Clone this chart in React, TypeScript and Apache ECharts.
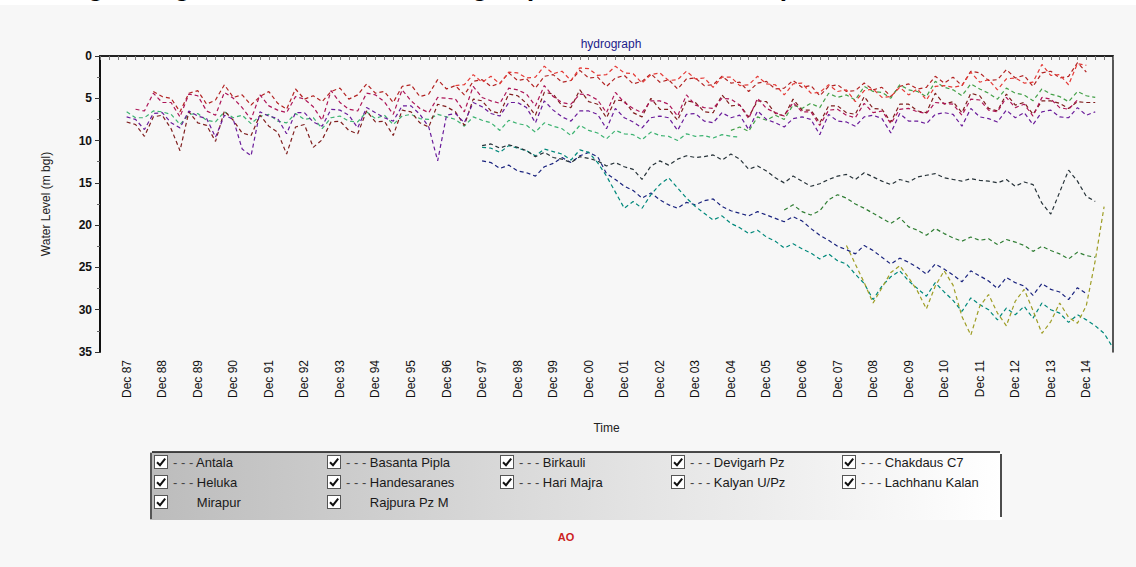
import React, { useEffect, useRef } from "react";
import * as echarts from "echarts";

// ---- categories (quarterly, labels shown at Dec) ----
const quarterMonths = ["Mar", "Jun", "Sep", "Dec"];
const firstYear = 1987;
const lastYear = 2015;
const categoryCount = 115; // Mar 87 .. Sep 15

const yTicks = [0, 5, 10, 15, 20, 25, 30, 35];

const seriesNames = [
  "Antala", "Basanta Pipla", "Birkauli", "Devigarh Pz", "Chakdaus C7",
  "Heluka", "Handesaranes", "Hari Majra", "Kalyan U/Pz", "Lachhanu Kalan",
  "Mirapur", "Rajpura Pz M",
];

// start index of each series (0 = Mar 87)
const seriesStart = [6, 3, 43, 71, 40, 3, 4, 43, 43, 3, 84, 77];

const antala = [4.2, 4.8,
  5.0, 6.6, 4.4, 4.1, 5.7, 5.2, 3.4, 4.9, 4.6, 5.8, 4.8, 4.2, 5.6, 6.3, 3.9, 5.1,
  4.7, 5.4, 4.2, 3.8, 5.1, 4.6, 3.3, 4.4, 4.2, 5.5, 3.6, 3.4, 4.8, 4.5, 2.8, 3.9,
  3.5, 4.6, 3.0, 2.8, 3.6, 3.2, 2.0, 2.9, 2.7, 3.8, 2.4, 2.2, 3.1, 2.9, 1.7, 2.6,
  2.5, 3.6, 2.6, 2.3, 3.3, 3.0, 2.1, 3.1, 2.8, 3.9, 2.7, 2.6, 3.5, 3.4, 2.4, 3.2,
  3.1, 4.2, 3.2, 3.0, 3.9, 3.8, 2.9, 3.7, 3.5, 4.7, 3.6, 3.4, 4.2, 4.1, 3.2, 4.0,
  3.7, 4.8, 3.6, 3.3, 3.9, 3.7, 2.4, 3.2, 2.5, 3.5, 1.8, 2.0, 2.9, 2.8, 1.6, 2.6,
  2.3, 3.6, 2.0, 1.8, 2.6, 2.4, 0.8, 1.9];

const basantaPipla = [6.6,
  7.3, 7.3, 6.5, 6.6, 6.9, 8.1, 6.9, 6.8, 7.6, 7.8, 6.6, 7.3, 7.0, 8.0, 7.1, 6.9,
  7.7, 7.9, 6.8, 7.5, 7.3, 8.6, 7.3, 7.1, 7.7, 7.8, 6.6, 7.4, 7.0, 8.1, 7.1, 6.9,
  7.4, 7.5, 6.9, 7.2, 7.5, 8.3, 7.2, 7.6, 7.9, 8.8, 7.6, 8.0, 8.2, 9.0, 7.9, 8.3,
  8.6, 9.4, 8.2, 8.8, 9.1, 9.8, 8.8, 9.2, 9.3, 9.9, 9.0, 9.4, 9.5, 10.0, 9.2, 9.5,
  9.4, 9.7, 9.3, 9.5, 9.6];

const birkauli = [12.4,
  12.6, 13.3, 12.9, 13.6, 13.8, 14.2, 13.1, 12.7, 12.0, 12.6, 11.8, 11.4,
  11.9, 13.9, 14.6, 15.4, 15.9, 16.8, 16.2, 17.0, 17.6, 18.0, 17.3, 17.6,
  17.1, 16.9, 17.8, 18.3, 18.6, 18.9, 18.4, 18.8, 19.2, 19.6, 19.0, 19.5,
  20.4, 21.2, 21.8, 22.5, 22.9, 23.4, 22.4, 23.0, 23.8, 24.6, 23.9, 24.4,
  25.0, 25.8, 24.6, 25.2, 25.9, 26.7, 25.4, 26.0, 26.6, 27.5, 26.2, 26.8,
  27.2, 28.3, 26.9, 27.6, 27.9, 28.8, 27.4, 28.1];

const devigarhPz = [8.8,
  8.4, 8.9, 7.2, 7.6, 7.0, 7.5, 5.8, 6.2, 5.6, 6.1, 4.4, 4.9, 4.6, 5.2, 3.6, 4.2,
  4.3, 5.0, 3.4, 4.0, 4.2, 4.8, 3.0, 3.7, 4.0, 4.7, 3.3, 3.9, 4.4, 5.1, 3.8, 4.4,
  4.6, 5.3, 3.9, 4.5, 4.8, 5.4, 4.2, 4.7, 4.9];

const chakdausC7 = [
  3.5, 3.4, 2.2, 3.1, 2.4, 3.3, 1.9, 2.0, 2.6, 2.5, 1.2, 2.1, 1.8, 2.9, 1.4, 1.5,
  2.3, 2.2, 1.2, 2.0, 2.1, 3.2, 2.2, 2.0, 2.9, 2.8, 1.8, 2.7, 2.6, 3.7, 2.5, 2.5,
  3.5, 3.4, 2.4, 3.3, 3.4, 4.6, 3.3, 3.2, 4.4, 4.3, 3.4, 4.2, 4.0, 5.4, 4.1, 3.9,
  4.9, 4.8, 3.7, 4.6, 3.9, 5.2, 3.6, 3.5, 3.7, 3.5, 1.9, 3.1, 2.8, 4.0, 2.7, 2.6,
  3.2, 3.1, 1.0, 2.3, 2.2, 3.4, 0.9, 1.1];

const heluka = [7.8,
  8.1, 9.5, 7.2, 7.0, 8.6, 11.2, 6.6, 7.9, 8.2, 10.1, 6.5, 7.6, 9.1, 9.4, 7.0, 8.3,
  9.0, 11.6, 8.4, 8.1, 10.8, 9.9, 7.8, 7.7, 8.8, 9.2, 6.5, 7.8, 7.7, 9.4, 6.4, 6.6,
  7.9, 8.4, 5.7, 6.0, 6.6, 8.2, 5.1, 5.3, 6.5, 6.8, 4.5, 4.7, 5.6, 7.0, 4.3, 4.5,
  5.9, 6.1, 4.0, 5.4, 5.7, 7.3, 5.2, 5.3, 6.7, 7.2, 5.0, 6.3, 6.3, 7.6, 5.3, 5.5,
  6.6, 6.7, 4.6, 5.9, 5.8, 7.2, 5.3, 5.4, 6.8, 7.1, 5.1, 6.4, 6.4, 7.9, 5.9, 5.9,
  6.7, 6.9, 4.8, 6.2, 6.3, 7.8, 5.7, 5.7, 6.5, 6.7, 4.4, 5.7, 5.4, 6.7, 4.4, 4.7,
  6.2, 6.5, 4.5, 5.8, 5.5, 6.9, 5.3, 5.3, 5.6, 6.2, 5.4, 5.5, 5.5];

const handesaranes = [
  6.3, 6.5, 4.4, 5.5, 5.5, 7.2, 4.5, 4.7, 6.5, 7.0, 4.3, 5.0, 6.1, 7.5, 4.6, 5.9,
  6.4, 6.7, 4.8, 5.1, 6.0, 7.6, 4.1, 5.5, 6.3, 6.5, 4.4, 4.6, 5.4, 6.9, 4.0, 5.3,
  6.2, 6.7, 4.9, 5.0, 5.1, 6.6, 3.6, 4.9, 5.3, 5.6, 3.8, 4.0, 4.5, 5.9, 3.5, 4.8,
  5.5, 5.7, 4.5, 4.6, 5.2, 6.7, 4.3, 5.5, 6.2, 6.7, 5.3, 5.3, 5.7, 7.1, 4.6, 5.8,
  6.1, 6.2, 5.0, 5.1, 5.8, 7.4, 5.0, 6.2, 6.7, 7.1, 5.5, 6.6, 6.6, 8.2, 6.4, 6.3,
  7.0, 7.3, 5.6, 6.7, 6.5, 8.0, 6.3, 6.2, 6.6, 6.8, 5.5, 5.6, 5.7, 7.0, 5.1, 5.2,
  6.4, 6.6, 4.9, 6.1, 5.7, 7.1, 4.9, 5.1, 6.1, 6.3, 5.2];

const hariMajra = [10.8,
  10.9, 11.4, 10.6, 10.9, 11.2, 11.8, 11.0, 11.3, 11.6, 12.3, 11.1, 11.4,
  12.6, 14.2, 16.1, 18.0, 17.2, 18.0, 16.4, 15.2, 14.4, 15.6, 16.8, 17.8,
  18.6, 19.4, 18.9, 19.8, 20.3, 21.0, 20.6, 21.4, 21.9, 22.7, 22.2, 22.8,
  23.3, 24.0, 23.4, 24.2, 24.6, 25.8, 26.9, 28.8, 27.2, 26.1, 25.4, 26.6,
  27.5, 28.4, 26.8, 27.9, 28.9, 30.2, 28.6, 29.4, 30.0, 31.2, 29.8, 30.6,
  29.6, 31.0, 29.2, 30.0, 30.4, 31.5, 30.6, 31.2, 31.9, 32.8, 34.5];

const kalyanUPz = [10.6,
  10.4, 10.9, 10.5, 10.8, 11.2, 11.9, 11.4, 12.0, 12.2, 12.6, 11.9, 12.1,
  12.4, 13.0, 12.6, 13.1, 13.4, 14.6, 13.0, 12.4, 12.9, 12.2, 11.8, 12.0,
  11.9, 11.7, 12.3, 11.6, 12.2, 13.4, 13.0, 13.6, 14.4, 15.0, 14.2, 14.8,
  15.4, 15.1, 14.6, 14.2, 14.0, 14.6, 13.8, 14.3, 14.8, 15.2, 14.6, 14.9,
  14.3, 14.1, 13.9, 14.4, 14.6, 14.8, 14.5, 14.7, 14.8, 15.0, 14.6, 15.4,
  14.9, 15.2, 17.4, 18.7, 16.1, 13.5, 14.8, 16.6, 17.2];

const lachhanuKalan = [7.2,
  7.5, 8.7, 6.8, 6.7, 7.9, 8.5, 6.5, 7.1, 7.4, 9.6, 7.0, 7.5, 11.0, 11.8, 6.6, 7.1,
  7.4, 9.2, 6.7, 6.7, 7.8, 8.3, 6.3, 6.4, 7.0, 8.5, 6.1, 6.7, 7.3, 7.7, 5.9, 5.9,
  6.9, 8.4, 12.4, 7.0, 6.8, 7.9, 5.5, 6.0, 6.8, 7.1, 5.5, 5.5, 6.1, 7.9, 5.3, 6.4,
  7.2, 7.7, 6.5, 6.5, 6.9, 8.6, 6.2, 7.3, 7.8, 8.5, 7.3, 7.1, 7.3, 8.8, 6.9, 6.8,
  7.7, 7.9, 6.7, 7.3, 7.0, 8.7, 6.5, 7.5, 7.9, 8.4, 7.4, 7.2, 7.5, 9.3, 6.9, 7.7,
  7.8, 8.3, 7.2, 7.0, 7.4, 9.1, 6.8, 7.7, 7.7, 8.0, 6.9, 6.7, 6.9, 8.3, 6.2, 7.2,
  7.4, 7.8, 6.4, 7.3, 6.7, 8.1, 6.6, 6.4, 7.2, 7.3, 6.1, 7.0, 6.6];

const mirapur = [
  22.4, 24.6, 26.8, 29.2, 27.4, 25.6, 24.8, 26.2, 27.8, 29.9, 27.2, 25.4,
  27.1, 30.8, 33.0, 29.6, 28.2, 30.4, 31.9, 29.0, 27.6, 30.1, 32.8, 31.4,
  29.2, 30.9, 31.6, 29.5, 24.2, 17.8];

const rajpuraPzM = [18.2, 17.6, 18.4,
  18.8, 18.3, 17.0, 16.4, 16.8, 17.5, 18.0, 18.6, 19.2, 19.8, 19.1, 20.2,
  20.6, 21.2, 20.4, 21.0, 21.5, 21.9, 21.4, 21.8, 21.6, 22.3, 21.7, 22.0,
  22.4, 23.1, 22.5, 23.0, 23.4, 24.0, 23.2, 23.6, 23.8];

const seriesValues = [
  antala, basantaPipla, birkauli, devigarhPz, chakdausC7, heluka,
  handesaranes, hariMajra, kalyanUPz, lachhanuKalan, mirapur, rajpuraPzM,
];

const seriesColors = [
  "#b22222", "#3cb371", "#1a237e", "#43a047", "#e53935", "#7f1d1d",
  "#ad1457", "#00897b", "#263238", "#6a1b9a", "#9e9d24", "#2e7d32",
];

// legend columns (read top to bottom)
const legendColumns = [
  ["Antala", "Heluka", "Mirapur"],
  ["Basanta Pipla", "Handesaranes", "Rajpura Pz M"],
  ["Birkauli", "Hari Majra"],
  ["Devigarh Pz", "Kalyan U/Pz"],
  ["Chakdaus C7", "Lachhanu Kalan"],
];
const legendNoLine = ["Mirapur", "Rajpura Pz M"];

function buildCategories(): string[] {
  const out: string[] = [];
  for (let y = firstYear; y <= lastYear; y++) {
    for (const m of quarterMonths) out.push(`${m} ${String(y).slice(2)}`);
  }
  return out.slice(0, categoryCount);
}

const checkSvg =
  "<svg xmlns='http://www.w3.org/2000/svg' width='14' height='14'>" +
  "<rect x='0.5' y='0.5' width='13' height='13' fill='#ffffff' stroke='#555555'/>" +
  "<path d='M3 7.2 L6 10.2 L11.2 3.6' fill='none' stroke='#111111' stroke-width='2'/></svg>";
const checkIcon = "image://data:image/svg+xml;charset=utf-8," + encodeURIComponent(checkSvg);

export default function App() {
  const ref = useRef<HTMLDivElement>(null);

  useEffect(() => {
    document.body.style.margin = "0";
    if (!ref.current) return;
    const chart = echarts.init(ref.current, null, { renderer: "svg" });
    const categories = buildCategories();
    const font = "Liberation Sans, Arial, sans-serif";

    const series = seriesNames.map((name, i) => ({
      name,
      type: "line",
      data: (new Array(seriesStart[i]).fill(null) as (number | null)[]).concat(seriesValues[i]),
      symbol: "none",
      showSymbol: false,
      connectNulls: false,
      lineStyle: { color: seriesColors[i], width: 1.2, type: [4, 3] },
      itemStyle: { color: seriesColors[i] },
    }));

    const legendLefts = [154, 327, 500, 671, 842];
    const legends = legendColumns.map((col, c) => ({
      data: col,
      orient: "vertical",
      left: legendLefts[c],
      top: 455,
      itemWidth: 14,
      itemHeight: 14,
      itemGap: 6,
      icon: checkIcon,
      selectedMode: false,
      padding: 0,
      formatter: (name: string) =>
        legendNoLine.includes(name) ? `{x|- - -} ${name}` : `{d|- - -} ${name}`,
      textStyle: {
        fontFamily: font,
        fontSize: 13,
        color: "#1a1a1a",
        rich: {
          d: { color: "#444444", fontSize: 13, fontFamily: font },
          x: { color: "rgba(0,0,0,0)", fontSize: 13, fontFamily: font },
        },
      },
    }));

    chart.setOption({
      animation: false,
      backgroundColor: "#f7f7f7",
      title: {
        text: "hydrograph",
        left: 606,
        top: 33,
        textAlign: "center",
        textStyle: { fontFamily: font, fontSize: 12, fontWeight: "normal", color: "#1c1c8a" },
      },
      grid: { left: 100, right: 23, top: 56, bottom: 215, containLabel: false },
      legend: legends,
      xAxis: [
        {
          type: "category",
          data: categories,
          boundaryGap: false,
          name: "Time",
          nameLocation: "middle",
          nameGap: 70,
          nameTextStyle: { fontFamily: font, fontSize: 12, color: "#222" },
          axisLine: { show: false },
          axisTick: { show: true, interval: 0, length: 4, lineStyle: { color: "#777", width: 1 } },
          axisLabel: {
            rotate: 90,
            interval: (_idx: number, val: string) => val.startsWith("Dec") && val !== "Dec 15",
            fontFamily: font,
            fontSize: 12,
            color: "#111",
            margin: 8,
          },
          splitLine: { show: false },
        },
        {
          type: "category",
          data: categories,
          boundaryGap: false,
          position: "top",
          axisLine: { show: true, lineStyle: { color: "#222", width: 2 } },
          axisTick: { show: false },
          axisLabel: { show: false },
          splitLine: { show: false },
        },
      ],
      yAxis: [
        {
          type: "value",
          inverse: true,
          min: yTicks[0],
          max: yTicks[yTicks.length - 1],
          interval: 5,
          name: "Water Level (m bgl)",
          nameLocation: "middle",
          nameGap: 48,
          nameTextStyle: { fontFamily: font, fontSize: 12, color: "#222" },
          axisLine: { show: true, lineStyle: { color: "#111", width: 2 } },
          axisTick: { show: true, length: 5, lineStyle: { color: "#333" } },
          minorTick: { show: true, splitNumber: 2, length: 3, lineStyle: { color: "#666" } },
          axisLabel: { fontFamily: font, fontSize: 12, fontWeight: "bold", color: "#111", margin: 8 },
          splitLine: { show: false },
        },
        {
          type: "value",
          inverse: true,
          min: yTicks[0],
          max: yTicks[yTicks.length - 1],
          interval: 5,
          position: "right",
          axisLine: { show: true, lineStyle: { color: "#222", width: 1.5 } },
          axisTick: { show: false },
          axisLabel: { show: false },
          splitLine: { show: false },
        },
      ],
      graphic: [
        { type: "rect", shape: { x: 0, y: 0, width: 1136, height: 5 }, style: { fill: "#ffffff" }, z: -1 },
        {
          type: "text",
          x: 40,
          y: 0,
          style: {
            text: "Long term ground water level changes (Dec 1987 - Dec 2014)",
            font: "bold 26px Liberation Sans, Arial, sans-serif",
            fill: "#000",
            verticalAlign: "bottom",
          },
        },
        {
          type: "rect",
          shape: { x: 150, y: 452, width: 852, height: 68 },
          style: {
            fill: new echarts.graphic.LinearGradient(0, 0, 1, 0, [
              { offset: 0, color: "#bcbcbc" },
              { offset: 0.55, color: "#e2e2e2" },
              { offset: 1, color: "#ffffff" },
            ]),
          },
          z: -1,
        },
        { type: "line", shape: { x1: 152, y1: 452, x2: 1000, y2: 452 }, style: { stroke: "#111", lineWidth: 1.5 } },
        { type: "line", shape: { x1: 151, y1: 453, x2: 151, y2: 519 }, style: { stroke: "#333", lineWidth: 1.5 } },
        { type: "line", shape: { x1: 1001, y1: 454, x2: 1001, y2: 517 }, style: { stroke: "#111", lineWidth: 1.5 } },
        {
          type: "text",
          x: 566,
          y: 537,
          style: {
            text: "AO",
            font: "bold 11px Liberation Sans, Arial, sans-serif",
            fill: "#cc2222",
            align: "center",
            verticalAlign: "middle",
          },
        },
      ],
      series,
    });

    return () => chart.dispose();
  }, []);

  return <div ref={ref} style={{ width: 1136, height: 567 }} />;
}
